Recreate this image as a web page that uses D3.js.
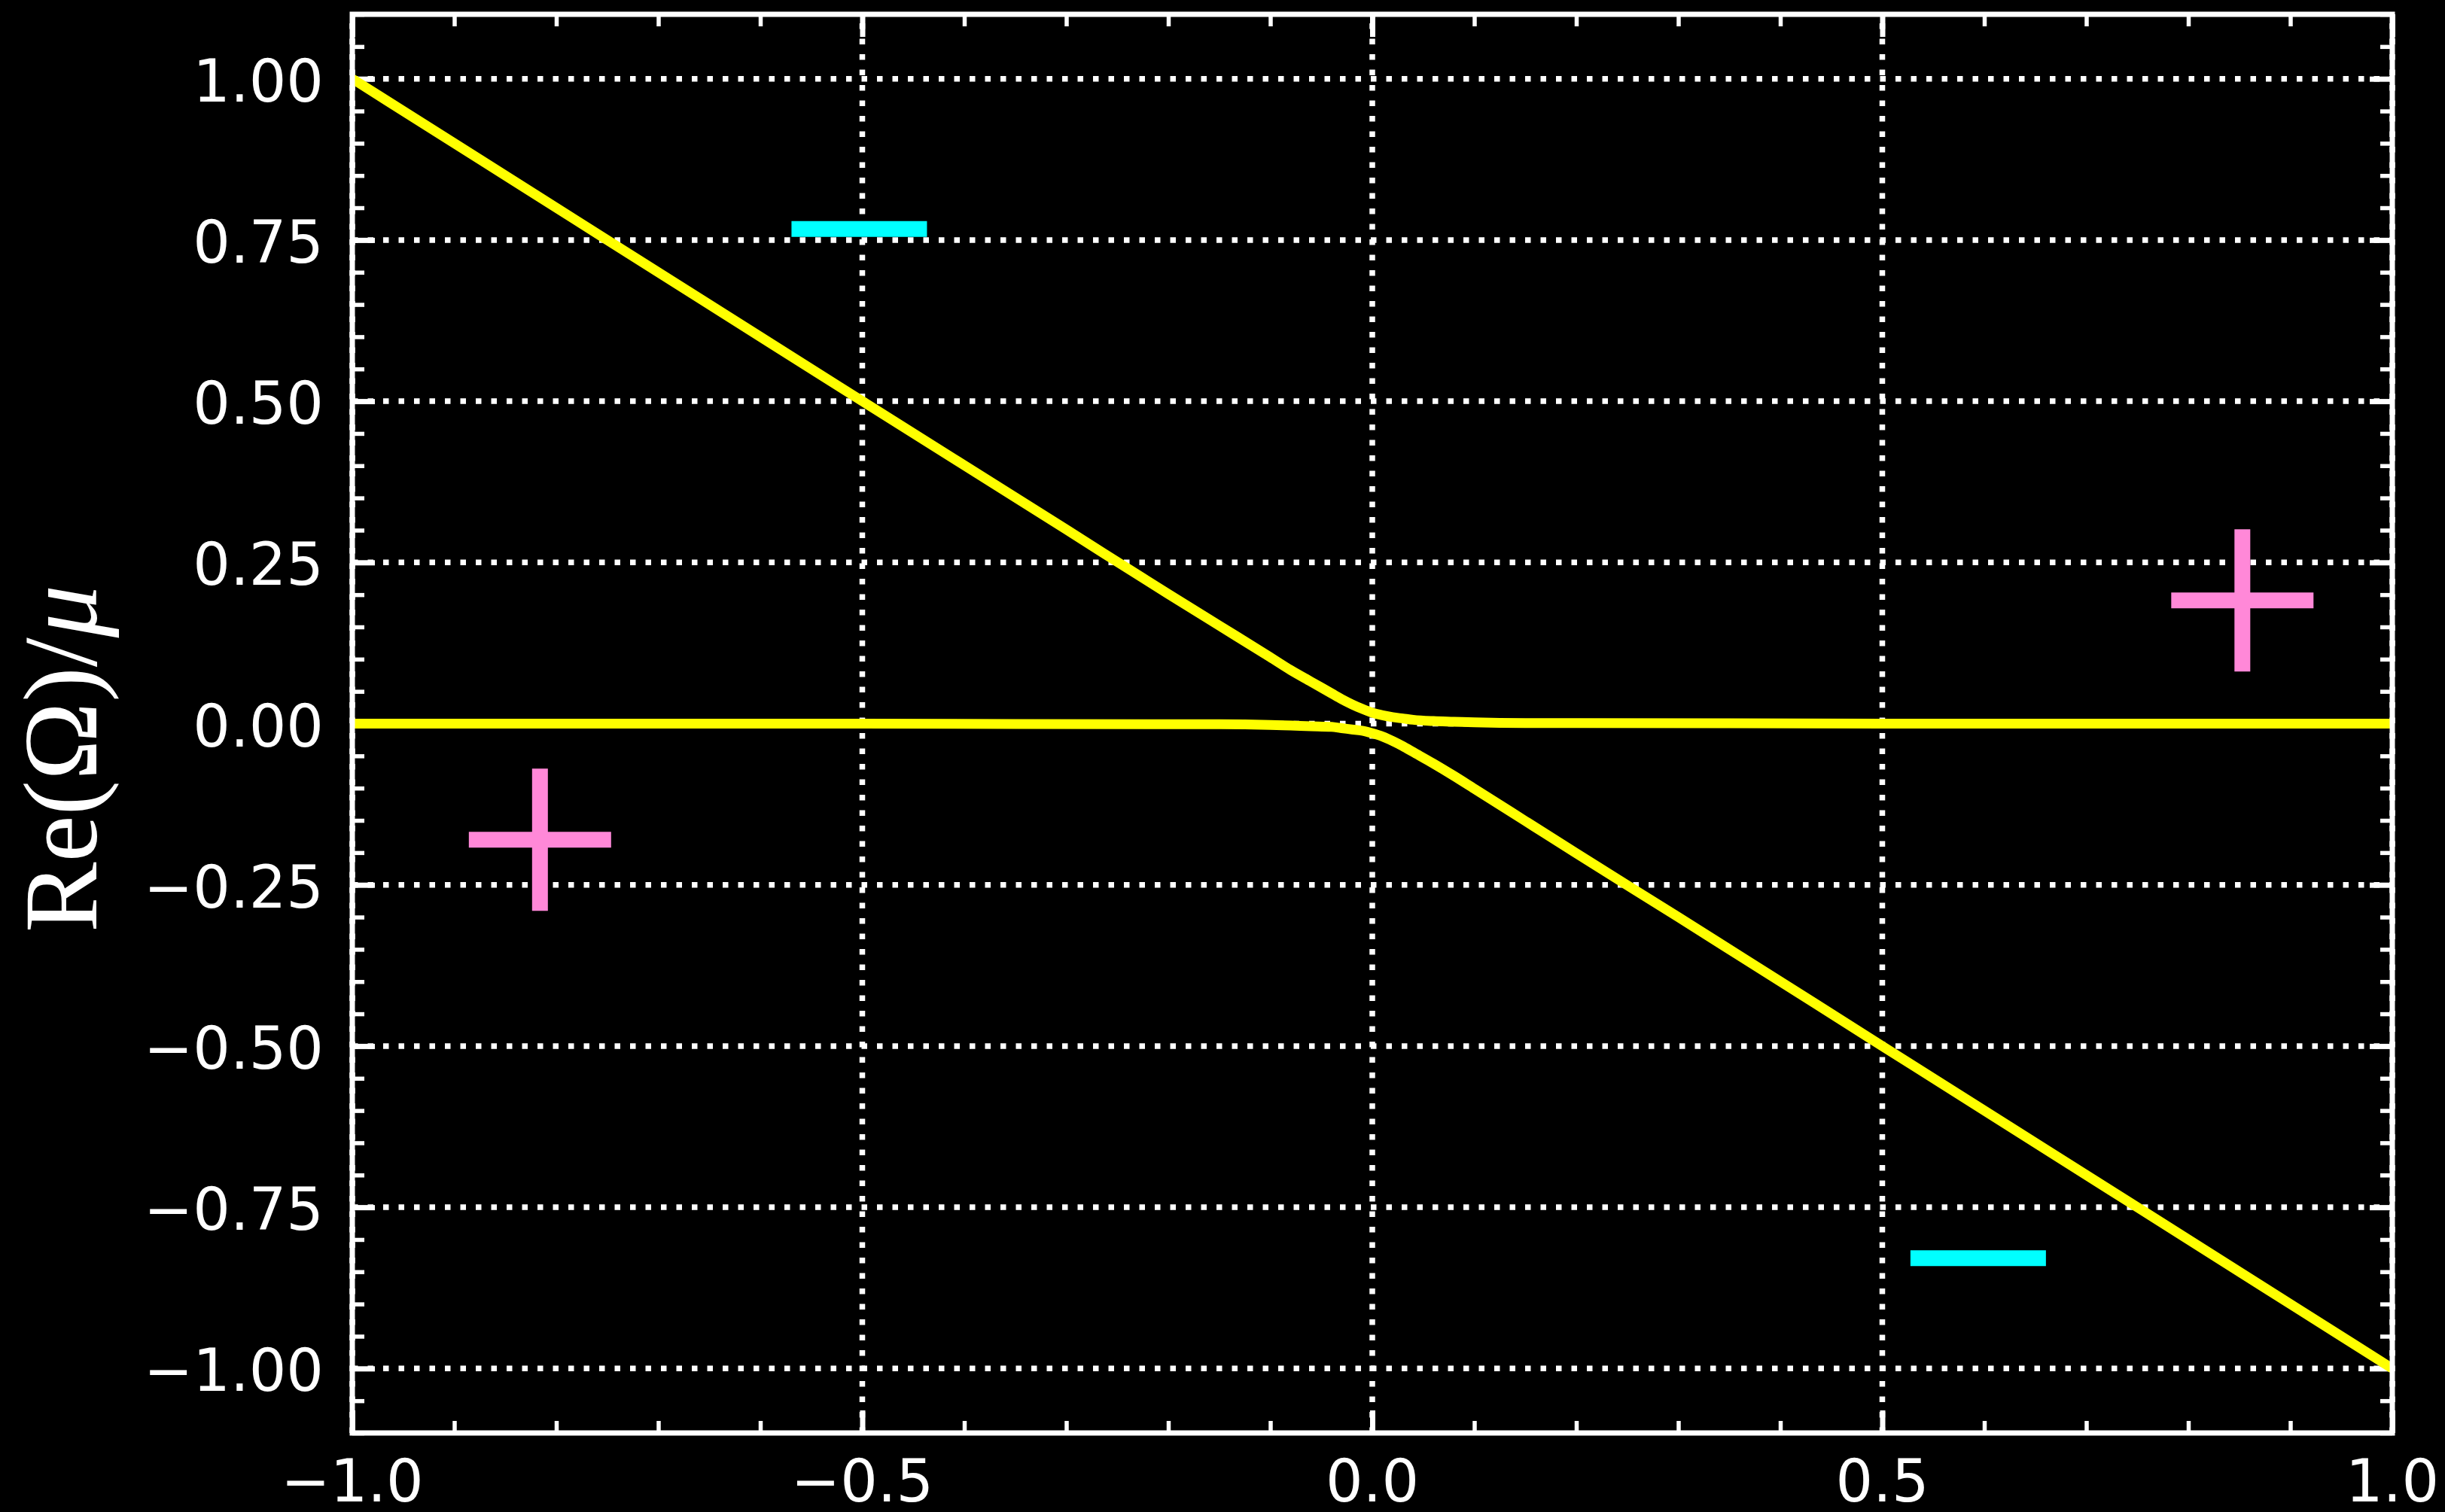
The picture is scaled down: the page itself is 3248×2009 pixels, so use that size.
<!DOCTYPE html>
<html>
<head>
<meta charset="utf-8">
<script src="https://cdn.jsdelivr.net/npm/d3@7"></script>
<style>
  html, body { margin: 0; padding: 0; background: #000; }
  svg { display: block; }
</style>
</head>
<body>
<div id="chart"></div>
<script>
// upper branch of Re(Omega)/mu
const upperX = [-1.00, -0.75, -0.50, -0.30, -0.20, -0.15, -0.10, -0.08, -0.06, -0.04, -0.03, -0.02, -0.01, 0.00, 0.01, 0.02, 0.03, 0.04, 0.06, 0.08, 0.10, 0.15, 0.20, 0.50, 1.00]
const upperY = [1.000, 0.750, 0.500, 0.301, 0.201, 0.152, 0.103, 0.083, 0.065, 0.047, 0.038, 0.030, 0.023, 0.017, 0.013, 0.010, 0.008, 0.006, 0.004, 0.003, 0.002, 0.001, 0.001, 0.000, 0.000]
// lower branch
const lowerX = [-1.00, -0.50, -0.20, -0.15, -0.10, -0.08, -0.06, -0.04, -0.03, -0.02, -0.01, 0.00, 0.01, 0.02, 0.03, 0.04, 0.06, 0.08, 0.10, 0.15, 0.20, 0.30, 0.50, 0.75, 1.00]
const lowerY = [0.000, 0.000, -0.001, -0.001, -0.002, -0.003, -0.004, -0.005, -0.007, -0.009, -0.011, -0.015, -0.020, -0.027, -0.035, -0.044, -0.062, -0.081, -0.101, -0.151, -0.201, -0.300, -0.500, -0.750, -1.000]

// sign markers
const plusX = [-0.816, 0.853]
const plusY = [-0.180, 0.191]
const minusX = [-0.503, 0.594]
const minusY = [0.767, -0.829]

const xTicks = [-1.0, -0.5, 0.0, 0.5, 1.0]
const yTicks = [-1.00, -0.75, -0.50, -0.25, 0.00, 0.25, 0.50, 0.75, 1.00]
const xMinor = d3.range(-10, 11).map(d => d / 10)
const yMinor = d3.range(-22, 23).map(d => d / 20)

let cfg = {
  w: 3248,
  h: 2009,
  left: 468,
  right: 3178,
  top: 19,
  bottom: 1904,
  fontSize: 78,
  lineWidth: 13,
  markerSize: 189,
  markerWidth: 21
}

let svg = d3.select("#chart")
  .append("svg")
  .attr("width", cfg.w)
  .attr("height", cfg.h)
  .style("background", "#000")

let x = d3.scaleLinear().domain([-1, 1]).range([cfg.left, cfg.right])
let y = d3.scaleLinear().domain([-1.1, 1.1]).range([cfg.bottom, cfg.top])

// dotted grid
let grid = svg.append("g").attr("class", "grid")
grid.selectAll(".gx")
  .data(xTicks)
  .enter()
  .append("line")
  .attr("x1", d => x(d))
  .attr("x2", d => x(d))
  .attr("y1", cfg.bottom)
  .attr("y2", cfg.top)
grid.selectAll(".gy")
  .data(yTicks)
  .enter()
  .append("line")
  .attr("x1", cfg.left)
  .attr("x2", cfg.right)
  .attr("y1", d => y(d))
  .attr("y2", d => y(d))
grid.selectAll("line")
  .style("stroke", "#fff")
  .style("stroke-width", "7.5px")
  .style("stroke-dasharray", "7.5,13")

// inward ticks on all four sides
function ticks (axis, values, len, width) {
  let g = svg.append("g")
    .call(axis.tickValues(values).tickSize(len).tickFormat(""))
  g.select(".domain").remove()
  g.selectAll(".tick line")
    .style("stroke", "#fff")
    .style("stroke-width", width + "px")
  return g
}
let minorLen = -16
let majorLen = -30
ticks(d3.axisBottom(x), xMinor, minorLen, 5.5).attr("transform", "translate(0," + cfg.bottom + ")")
ticks(d3.axisTop(x), xMinor, minorLen, 5.5).attr("transform", "translate(0," + cfg.top + ")")
ticks(d3.axisLeft(y), yMinor, minorLen, 5.5).attr("transform", "translate(" + cfg.left + ",0)")
ticks(d3.axisRight(y), yMinor, minorLen, 5.5).attr("transform", "translate(" + cfg.right + ",0)")
ticks(d3.axisBottom(x), xTicks, majorLen, 7).attr("transform", "translate(0," + cfg.bottom + ")")
ticks(d3.axisTop(x), xTicks, majorLen, 7).attr("transform", "translate(0," + cfg.top + ")")
ticks(d3.axisLeft(y), yTicks, majorLen, 7).attr("transform", "translate(" + cfg.left + ",0)")
ticks(d3.axisRight(y), yTicks, majorLen, 7).attr("transform", "translate(" + cfg.right + ",0)")

// curves
let line = d3.line()
  .x(d => x(d[0]))
  .y(d => y(d[1]))
  .curve(d3.curveMonotoneX)
let branches = [
  upperX.map((v, i) => [v, upperY[i]]),
  lowerX.map((v, i) => [v, lowerY[i]])
]
svg.append("defs").append("clipPath")
  .attr("id", "plot-clip")
  .append("rect")
  .attr("x", cfg.left)
  .attr("y", cfg.top)
  .attr("width", cfg.right - cfg.left)
  .attr("height", cfg.bottom - cfg.top)
svg.append("g")
  .attr("clip-path", "url(#plot-clip)")
  .selectAll("path")
  .data(branches)
  .enter()
  .append("path")
  .attr("d", line)
  .style("fill", "none")
  .style("stroke", "#ffff00")
  .style("stroke-width", cfg.lineWidth + "px")

// + and - markers
let half = cfg.markerSize / 2
svg.selectAll(".plus")
  .data(plusX)
  .enter()
  .append("path")
  .attr("class", "plus")
  .attr("d", (d, i) => {
    let cx = x(d), cy = y(plusY[i])
    return "M" + (cx - half) + "," + cy + "H" + (cx + half) + "M" + cx + "," + (cy - half) + "V" + (cy + half)
  })
  .style("stroke", "#ff88d8")
  .style("stroke-width", cfg.markerWidth + "px")
  .style("fill", "none")
svg.selectAll(".minus")
  .data(minusX)
  .enter()
  .append("path")
  .attr("class", "minus")
  .attr("d", (d, i) => {
    let cx = x(d), cy = y(minusY[i])
    return "M" + (cx - 90) + "," + cy + "H" + (cx + 90)
  })
  .style("stroke", "#00ffff")
  .style("stroke-width", cfg.markerWidth + "px")
  .style("fill", "none")

// frame
svg.append("rect")
  .attr("x", cfg.left)
  .attr("y", cfg.top)
  .attr("width", cfg.right - cfg.left)
  .attr("height", cfg.bottom - cfg.top)
  .style("fill", "none")
  .style("stroke", "#fff")
  .style("stroke-width", "7px")

// tick labels
let fmtY = d => d3.format(".2f")(d).replace("-", "\u2212")
let fmtX = d => d3.format(".1f")(d).replace("-", "\u2212")
svg.selectAll(".ylab")
  .data(yTicks)
  .enter()
  .append("text")
  .attr("x", cfg.left - 38)
  .attr("y", d => y(d) + 30)
  .attr("text-anchor", "end")
  .style("font-family", "'DejaVu Sans'")
  .style("font-size", cfg.fontSize + "px")
  .style("fill", "#fff")
  .text(fmtY)
svg.selectAll(".xlab")
  .data(xTicks)
  .enter()
  .append("text")
  .attr("x", d => x(d))
  .attr("y", 1995)
  .attr("text-anchor", "middle")
  .style("font-family", "'DejaVu Sans'")
  .style("font-size", cfg.fontSize + "px")
  .style("fill", "#fff")
  .text(fmtX)

// y axis title
let title = svg.append("text")
  .attr("transform", "translate(128,1008) rotate(-90)")
  .attr("text-anchor", "middle")
  .style("font-family", "'Liberation Serif', 'DejaVu Serif', serif")
  .style("font-size", "140px")
  .style("fill", "#fff")
title.append("tspan").text("Re(\u03a9)/")
title.append("tspan").style("font-style", "italic").text("\u03bc")
</script>
</body>
</html>
